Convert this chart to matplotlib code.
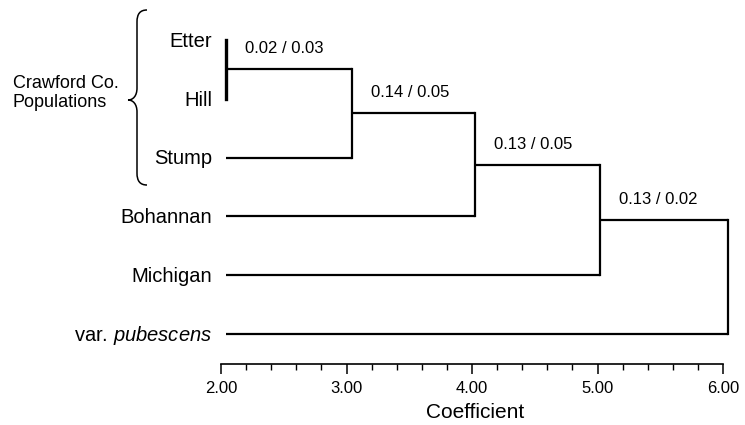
import numpy as np
import matplotlib
matplotlib.use("Agg")
import matplotlib.pyplot as plt
from matplotlib.path import Path
from matplotlib.patches import PathPatch
from matplotlib.ticker import MultipleLocator, FormatStrFormatter

plt.rcParams['font.family'] = ['Liberation Sans', 'DejaVu Sans']
plt.rcParams['mathtext.fontset'] = 'custom'
plt.rcParams['mathtext.rm'] = 'Liberation Sans'
plt.rcParams['mathtext.it'] = 'Liberation Sans:italic'

# leaves, top to bottom
leaves = ["Etter", "Hill", "Stump", "Bohannan", "Michigan", "var. $\\mathit{pubescens}$"]
leaf_start = 2.04
# merges: (cluster a, cluster b, coefficient); new clusters numbered 6, 7, ...
merge_a = [0, 6, 7, 8, 9]
merge_b = [1, 2, 3, 4, 5]
merge_h = [2.04, 3.04, 4.02, 5.02, 6.04]
merge_txt = ["0.02 / 0.03", "0.14 / 0.05", "0.13 / 0.05", "0.13 / 0.02", None]

# pixel -> data helpers (for placing decorations only)
PX0, PXU = 221.0, 125.5   # x=2.00 at 221 px, 125.5 px per unit
PY0, PYU = 40.0, 58.8     # leaf 0 at 40 px, 58.8 px per leaf
def dx(px):
    return 2 + (px - PX0) / PXU
def dy(py):
    return (py - PY0) / PYU

fig = plt.figure(figsize=(7.45, 4.25), dpi=100)
ax_bottom = 364
ax = fig.add_axes([PX0 / 745, (425 - ax_bottom) / 425, (723 - PX0) / 745, ax_bottom / 425])
ax.set_xlim(2, 6)
ax.set_ylim(dy(ax_bottom), dy(0))

lw = 1.6
xs = {i: leaf_start for i in range(len(leaves))}
ys = {i: float(i) for i in range(len(leaves))}
for k, (a, b, h) in enumerate(zip(merge_a, merge_b, merge_h)):
    ax.plot([xs[a], h], [ys[a], ys[a]], color='black', lw=lw, solid_capstyle='butt', clip_on=False)
    ax.plot([xs[b], h], [ys[b], ys[b]], color='black', lw=lw, solid_capstyle='butt', clip_on=False)
    ax.plot([h, h], [ys[a], ys[b]], color='black', lw=lw * (1.5 if k == 0 else 1),
            solid_capstyle='projecting', clip_on=False)
    new = len(leaves) + k
    xs[new] = h
    ys[new] = (ys[a] + ys[b]) / 2
    if merge_txt[k]:
        ax.annotate(merge_txt[k], (h, ys[new]), xytext=(14, 15), textcoords='offset points',
                    ha='left', va='center', fontsize=12)

for i, name in enumerate(leaves):
    ax.annotate(name, (leaf_start, i), xytext=(-10, -1), textcoords='offset points',
                ha='right', va='center', fontsize=14.5, annotation_clip=False)

# brace around the Crawford Co. populations
verts = [(147, 10), (140, 10), (137, 14), (137, 22),
         (137, 88),
         (137, 96), (133, 100), (128, 100),
         (133, 100), (137, 104), (137, 112),
         (137, 173),
         (137, 181), (140, 185), (147, 185)]
codes = [Path.MOVETO, Path.CURVE4, Path.CURVE4, Path.CURVE4,
         Path.LINETO,
         Path.CURVE4, Path.CURVE4, Path.CURVE4,
         Path.CURVE4, Path.CURVE4, Path.CURVE4,
         Path.LINETO,
         Path.CURVE4, Path.CURVE4, Path.CURVE4]
brace = Path([(dx(px), dy(py)) for px, py in verts], codes)
ax.add_patch(PathPatch(brace, facecolor='none', edgecolor='black', lw=1.1, clip_on=False))
ax.text(dx(13), dy(93), "Crawford Co.\nPopulations", ha='left', va='center',
        fontsize=13, linespacing=1.1, clip_on=False)

for s in ['top', 'right', 'left']:
    ax.spines[s].set_visible(False)
ax.spines['bottom'].set_linewidth(1.2)
ax.set_yticks([])
ax.xaxis.set_major_locator(MultipleLocator(1.0))
ax.xaxis.set_minor_locator(MultipleLocator(0.2))
ax.xaxis.set_major_formatter(FormatStrFormatter('%.2f'))
ax.tick_params(axis='x', which='major', length=7, width=1.1, labelsize=12, pad=5)
ax.tick_params(axis='x', which='minor', length=4, width=1.0)
ax.set_xlabel("Coefficient", fontsize=15)
ax.xaxis.set_label_coords((475 - PX0) / (723 - PX0), -(413 - ax_bottom) / ax_bottom)
ax.xaxis.label.set_va('center')

fig.savefig("out.png", dpi=100)
